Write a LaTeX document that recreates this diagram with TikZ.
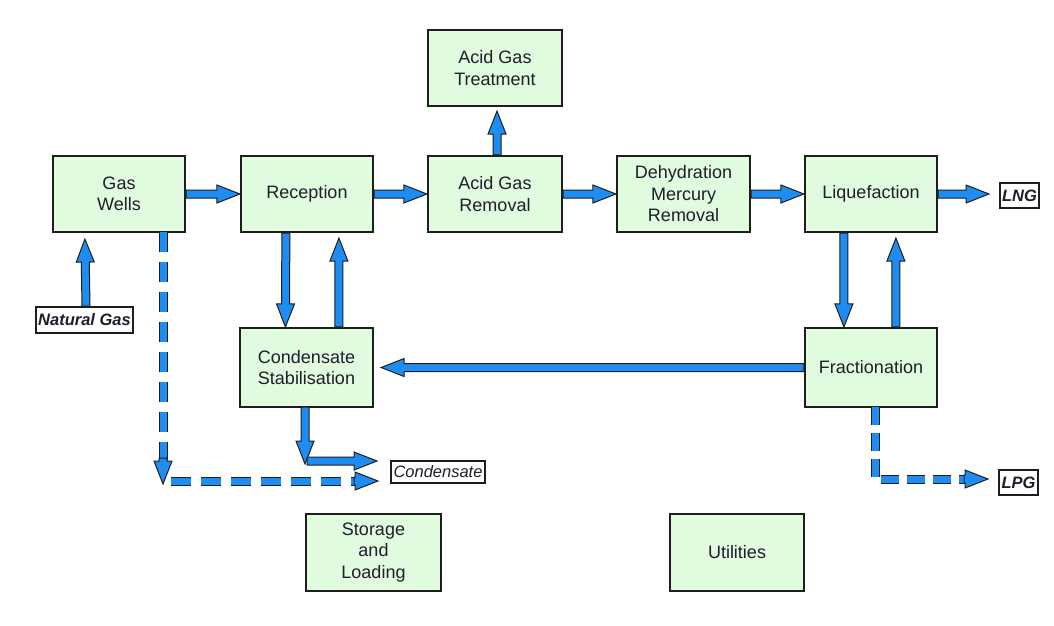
\documentclass[tikz,border=0pt]{standalone}
\usepackage{fontspec}
\setmainfont{Liberation Sans}
\usetikzlibrary{calc}
\definecolor{boxfill}{RGB}{224,251,222}
\definecolor{flowblue}{RGB}{30,140,240}
\definecolor{edgecol}{RGB}{30,30,30}
\definecolor{txtcol}{RGB}{30,30,45}
\newcommand{\boxfont}{\fontsize{18}{21.5}\selectfont}
\newcommand{\labfont}{\fontsize{16.5}{19}\selectfont\itshape}
\newcommand{\fatarr}[2]{%
  \coordinate (faS) at (#1);
  \coordinate (faE) at (#2);
  \coordinate (faB) at ($(faE)!23pt!(faS)$);
  \filldraw[fatfill] ($(faS)!4pt!90:(faE)$) -- ($(faB)!4pt!90:(faE)$) -- ($(faB)!9pt!90:(faE)$) -- (faE) -- ($(faB)!9pt!-90:(faE)$) -- ($(faB)!4pt!-90:(faE)$) -- ($(faS)!4pt!-90:(faE)$) -- cycle;
}
\tikzset{
  proc/.style={draw=edgecol, line width=2.2pt, fill=boxfill, minimum width=132pt, minimum height=76pt, align=center, font=\boxfont, text=txtcol, inner sep=0pt},
  lab/.style={draw=edgecol, line width=1.8pt, fill=white, inner sep=0pt, font=\labfont, text=txtcol},
  fatfill/.style={fill=flowblue, draw=edgecol, line width=1pt, line join=miter},
  dshaft/.style={draw=edgecol, line width=1pt, double=flowblue, double distance=7pt, dash pattern=on 20pt off 10pt},
}
\begin{document}
\begin{tikzpicture}[x=1pt,y=-1pt]
\useasboundingbox (0,0) rectangle (1054,625);
\fill[white] (0,0) rectangle (1054,625);
% process boxes
\node[proc] (gw) at (119,194) {Gas\\Wells};
\node[proc] (rec) at (307,194) {Reception};
\node[proc, minimum width=134pt] (agr) at (495,194) {Acid Gas\\Removal};
\node[proc, minimum width=134pt] (agt) at (495,68) {Acid Gas\\Treatment};
\node[proc, minimum width=133pt] (dmr) at (683.5,194) {Dehydration\\Mercury\\Removal};
\node[proc] (liq) at (871,194) {Liquefaction};
\node[proc, minimum height=79pt] (frac) at (871,367.5) {Fractionation};
\node[proc, minimum width=133pt, minimum height=79pt] (cs) at (306.5,367.5) {Condensate\\Stabilisation};
\node[proc, minimum width=135pt, minimum height=77pt] (stor) at (373.5,552.5) {Storage\\and\\Loading};
\node[proc, minimum width=134pt, minimum height=77pt] (util) at (737,552.5) {Utilities};
% labels
\node[lab, minimum width=97pt, minimum height=26pt, font=\labfont\bfseries] (ng) at (84.5,320) {Natural Gas};
\node[lab, minimum width=39pt, minimum height=25pt, font=\labfont\bfseries] (lng) at (1019.5,195.5) {LNG};
\node[lab, minimum width=39pt, minimum height=25pt, font=\labfont\bfseries] (lpg) at (1018.5,482.5) {LPG};
\node[lab, minimum width=94pt, minimum height=22pt] (cond) at (438,472) {Condensate};
% helper coordinates for free ends
\coordinate (lngtip) at (989,194);
\coordinate (csout) at (305,407);
\coordinate (cdown) at (305,464);
\coordinate (cright0) at (307,461);
\coordinate (condtip) at (377,461);
\coordinate (gwtop) at (163,232);
\coordinate (gwdashend) at (163,460);
\coordinate (gwhead0) at (163,458);
\coordinate (gwdown) at (163,484);
\coordinate (gwright0) at (171,481);
\coordinate (gwdashend2) at (358,481);
\coordinate (gwhead2) at (354,481);
\coordinate (gwtip) at (378,481);
\coordinate (ftop) at (875,407);
\coordinate (fdashend) at (968,479);
\coordinate (fhead) at (964,479);
\coordinate (lpgtip) at (988,479);
% main flow arrows
\fatarr{gw.east}{rec.west}
\fatarr{rec.east}{agr.west}
\fatarr{agr.east}{dmr.west}
\fatarr{dmr.east}{liq.west}
\fatarr{liq.east}{lngtip}
\fatarr{[xshift=2pt]agr.north}{[xshift=2pt,yshift=-4pt]agt.south}
\fatarr{[xshift=1.5pt]ng.north}{[xshift=33pt,yshift=-6pt]gw.south west}
\fatarr{[xshift=46pt]rec.south west}{[xshift=46.5pt]cs.north west}
\fatarr{[xshift=100pt]cs.north west}{[xshift=99pt,yshift=-5pt]rec.south west}
\fatarr{[xshift=40pt]liq.south west}{[xshift=40pt]frac.north west}
\fatarr{[xshift=92pt]frac.north west}{[xshift=92pt,yshift=-5pt]liq.south west}
\fatarr{frac.west}{[xshift=7pt]cs.east}
% condensate outlet
\fatarr{csout}{cdown}
\fatarr{cright0}{condtip}
% dashed gas wells bypass
\draw[dshaft] (gwtop) -- (gwdashend);
\fatarr{gwhead0}{gwdown}
\draw[dshaft] (gwright0) -- (gwdashend2);
\fatarr{gwhead2}{gwtip}
% dashed LPG line
\draw[dshaft, dash pattern=on 18pt off 8pt] (ftop) |- (fdashend);
\fatarr{fhead}{lpgtip}
\end{tikzpicture}
\end{document}
